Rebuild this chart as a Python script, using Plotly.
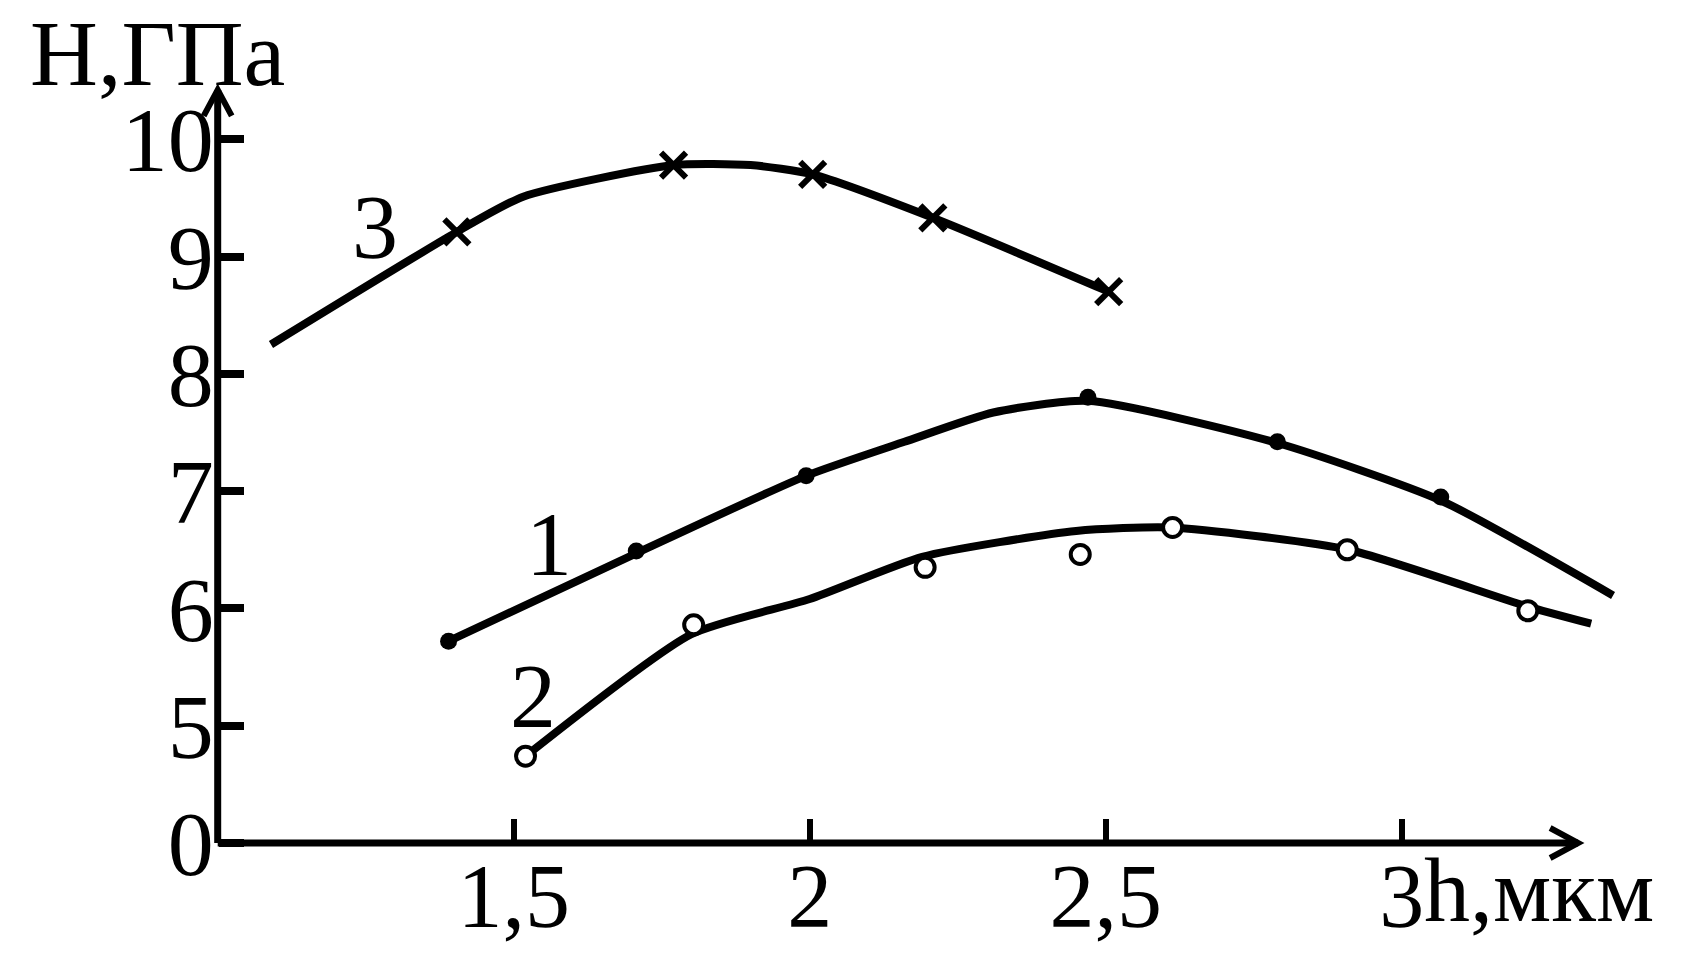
import plotly.graph_objects as go

# ---------------- data ----------------
# curve 1 (filled dots)
c1_pts_x = [1.39, 1.707, 1.994, 2.47, 2.79, 3.066]
c1_pts_y = [5.72, 6.49, 7.13, 7.80, 7.42, 6.95]
c1_line_x = [1.39, 1.707, 1.994, 2.16, 2.31, 2.47, 2.79, 3.066, 3.357]
c1_line_y = [5.72, 6.47, 7.13, 7.42, 7.67, 7.77, 7.41, 6.92, 6.11]

# curve 2 (open circles)
c2_pts_x = [1.52, 1.804, 2.195, 2.457, 2.613, 2.908, 3.213]
c2_pts_y = [4.74, 5.86, 6.35, 6.46, 6.69, 6.50, 5.98]
c2_line_x = [1.52, 1.80, 2.0, 2.19, 2.45, 2.61, 2.91, 3.21, 3.32]
c2_line_y = [4.74, 5.78, 6.08, 6.44, 6.66, 6.69, 6.50, 6.02, 5.87]

# curve 3 (crosses)
c3_pts_x = [1.404, 1.77, 2.005, 2.208, 2.505]
c3_pts_y = [9.21, 9.78, 9.70, 9.33, 8.70]
c3_line_x = [1.09, 1.404, 1.516, 1.77, 1.90, 2.005, 2.208, 2.505]
c3_line_y = [8.25, 9.21, 9.51, 9.78, 9.78, 9.70, 9.33, 8.70]

x_tick_vals = [1.5, 2.0, 2.5, 3.0]
x_tick_text = ["1,5", "2", "2,5", "3"]
y_tick_vals = [0, 5, 6, 7, 8, 9, 10]
y_tick_text = ["0", "5", "6", "7", "8", "9", "10"]

curve_labels = ["1", "2", "3"]
curve_label_x = [1.56, 1.533, 1.266]
curve_label_y = [6.55, 5.25, 9.25]

y_title = "H,ГПа"
x_title = "h,мкм"

# ---------------- geometry ----------------
W, H = 1705, 955
X0_PX, PX_PER_X = 217.7, 592.0   # pixel of x=1.0, pixels per unit x
Y0_PX, PX_PER_Y = 843.0, 117.3   # pixel of displayed y=4 ("0"), pixels per unit
X_ORIGIN, Y_BREAK = 1.0, 4.0
X_END, Y_END = 3.298, 10.42

def ypos(v):
    # broken axis: 0 sits one unit below 5
    return v if v >= 5 else Y_BREAK

xr = [X_ORIGIN - X0_PX / PX_PER_X, X_ORIGIN + (W - X0_PX) / PX_PER_X]
yr = [Y_BREAK - (H - Y0_PX) / PX_PER_Y, Y_BREAK + Y0_PX / PX_PER_Y]

FONT = "Liberation Serif"
BLACK = "black"

fig = go.Figure()

def add_curve(lx, ly, px, py, marker):
    fig.add_trace(go.Scatter(x=lx, y=ly, mode="lines",
                             line=dict(color=BLACK, width=8, shape="spline", smoothing=0.6),
                             hoverinfo="skip", showlegend=False, cliponaxis=False))
    fig.add_trace(go.Scatter(x=px, y=py, mode="markers", marker=marker,
                             showlegend=False, cliponaxis=False))

add_curve(c1_line_x, c1_line_y, c1_pts_x, c1_pts_y,
          dict(symbol="circle", size=17, color=BLACK))
add_curve(c2_line_x, c2_line_y, c2_pts_x, c2_pts_y,
          dict(symbol="circle", size=19, color="white", line=dict(color=BLACK, width=4)))
add_curve(c3_line_x, c3_line_y, c3_pts_x, c3_pts_y,
          dict(symbol="x-thin", size=25, color=BLACK, line=dict(color=BLACK, width=6)))

# axis lines with open arrow heads
shapes = [
    dict(type="line", xref="x", yref="y", x0=X_ORIGIN, y0=Y_BREAK, x1=X_ORIGIN, y1=Y_END,
         line=dict(color=BLACK, width=7)),
    dict(type="line", xref="x", yref="y", x0=X_ORIGIN, y0=Y_BREAK, x1=X_END, y1=Y_BREAK,
         line=dict(color=BLACK, width=7)),
]
ax_l, ay_l = 14 / PX_PER_X, 26 / PX_PER_Y
shapes.append(dict(type="path", xref="x", yref="y",
                   path=f"M {X_ORIGIN-ax_l},{Y_END-ay_l} L {X_ORIGIN},{Y_END} L {X_ORIGIN+ax_l},{Y_END-ay_l}",
                   line=dict(color=BLACK, width=6)))
bx_l, by_l = 28 / PX_PER_X, 15 / PX_PER_Y
shapes.append(dict(type="path", xref="x", yref="y",
                   path=f"M {X_END-bx_l},{Y_BREAK+by_l} L {X_END},{Y_BREAK} L {X_END-bx_l},{Y_BREAK-by_l}",
                   line=dict(color=BLACK, width=6)))

annotations = []
for t, x, y in zip(curve_labels, curve_label_x, curve_label_y):
    annotations.append(dict(text=t, x=x, y=y, xref="x", yref="y", showarrow=False,
                            font=dict(family=FONT, size=92, color=BLACK)))
annotations.append(dict(text=y_title, x=0.681, y=yr[1], xref="x", yref="y",
                        xanchor="left", yanchor="top", showarrow=False, borderpad=0,
                        font=dict(family=FONT, size=94, color=BLACK)))
annotations.append(dict(text=x_title, x=3.034, y=Y_BREAK - 0.40, xref="x", yref="y",
                        xanchor="left", yanchor="middle", showarrow=False,
                        font=dict(family=FONT, size=92, color=BLACK)))

fig.update_layout(
    width=W, height=H, margin=dict(l=0, r=0, t=0, b=0),
    paper_bgcolor="white", plot_bgcolor="white",
    shapes=shapes, annotations=annotations,
    xaxis=dict(range=xr, showgrid=False, zeroline=False, showline=False,
               tickvals=x_tick_vals, ticktext=x_tick_text,
               ticks="inside", ticklen=24, tickwidth=6, tickcolor=BLACK,
               tickfont=dict(family=FONT, size=90, color=BLACK),
               anchor="free", position=(H - Y0_PX) / H, ticklabelstandoff=-7),
    yaxis=dict(range=yr, showgrid=False, zeroline=False, showline=False,
               tickvals=[ypos(v) for v in y_tick_vals], ticktext=y_tick_text,
               ticks="inside", ticklen=25, tickwidth=8, tickcolor=BLACK,
               tickfont=dict(family=FONT, size=92, color=BLACK),
               anchor="free", position=X0_PX / W, ticklabelstandoff=4),
)

fig.write_html("out.html", config={"displayModeBar": False},
               post_script="document.body.style.margin='0';")
